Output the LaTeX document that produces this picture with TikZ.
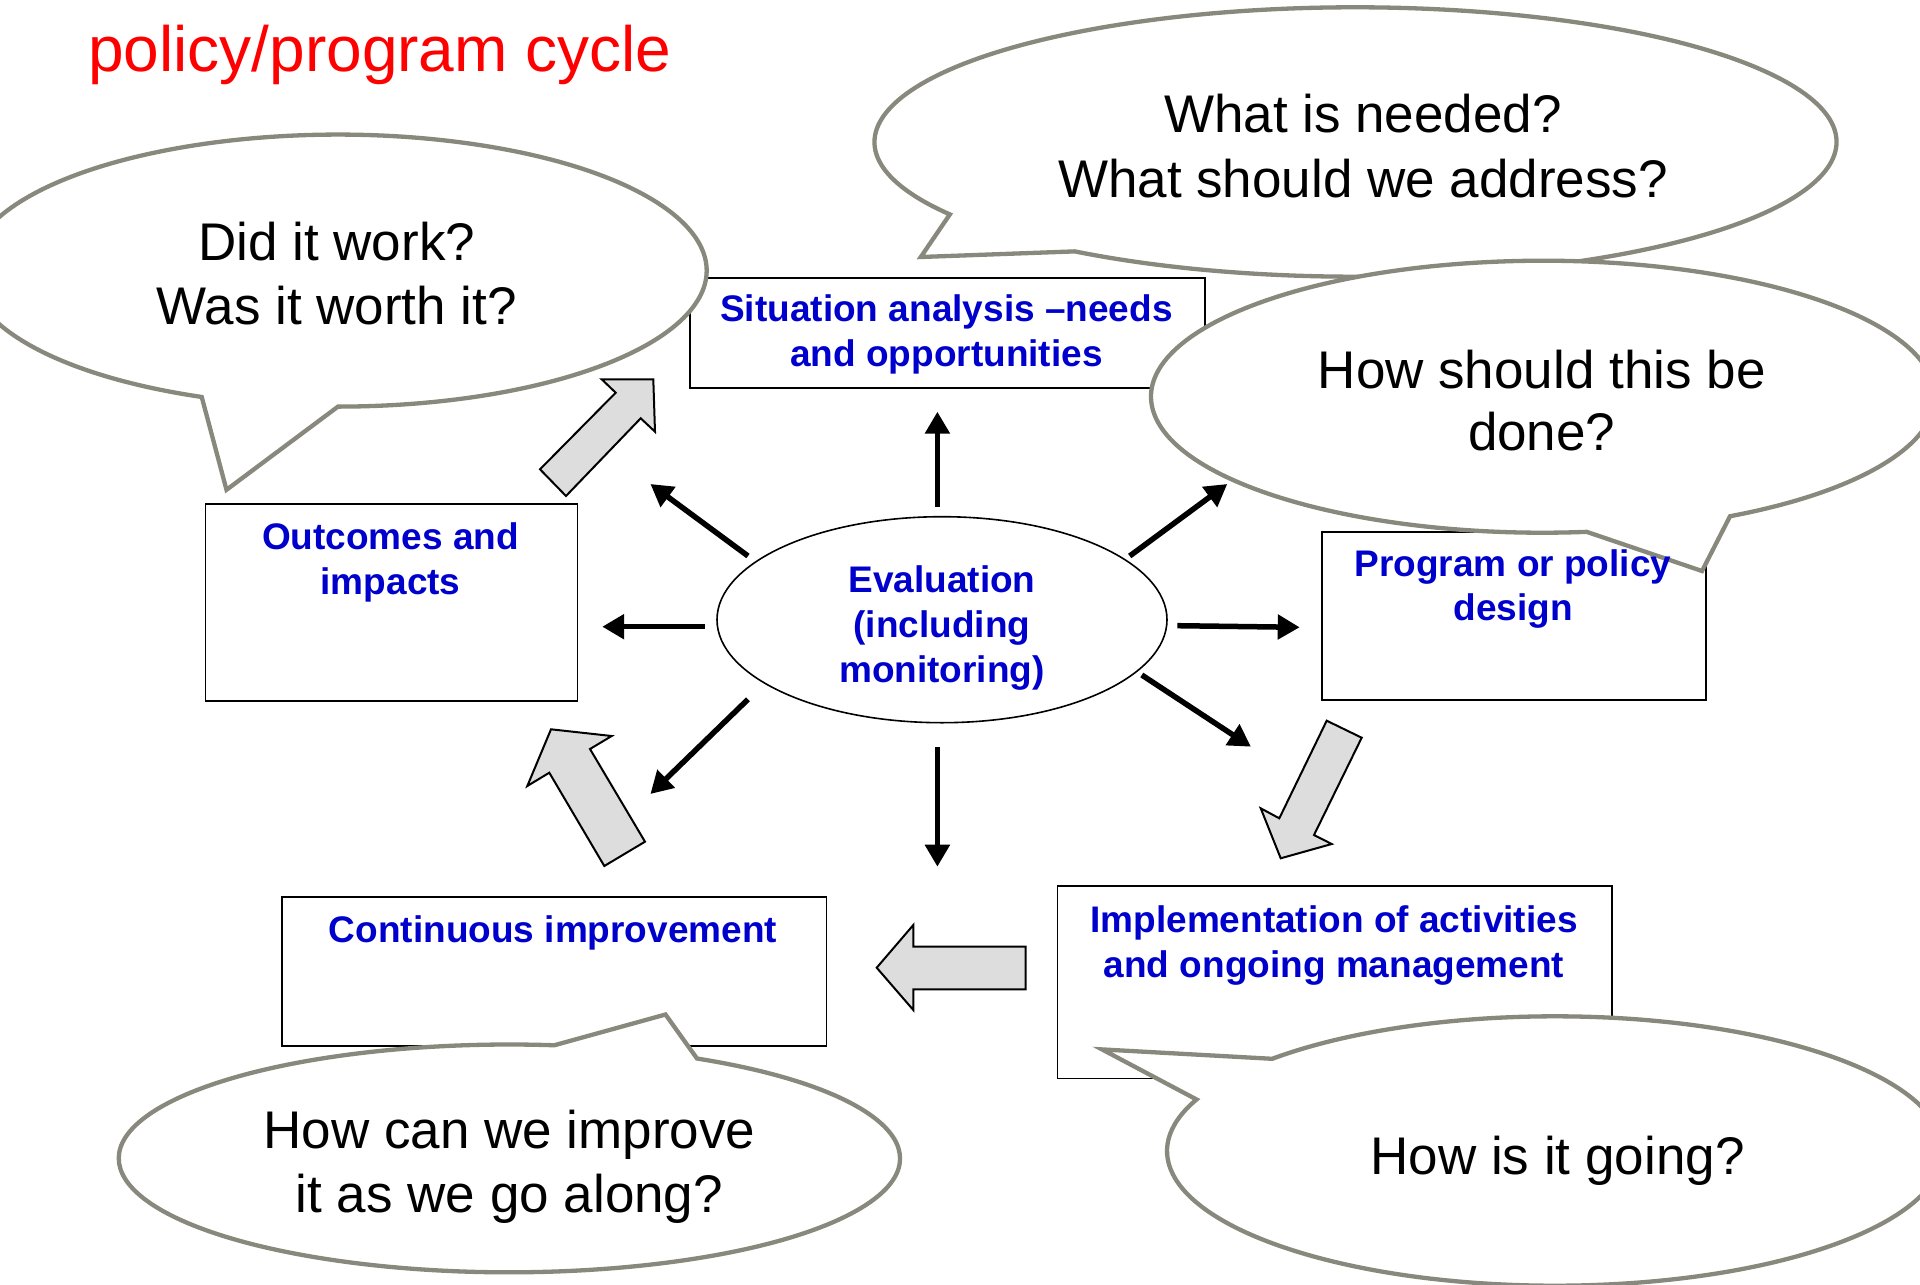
\documentclass[tikz,border=0pt]{standalone}
\usepackage{fontspec}
\setmainfont{Liberation Sans}
\usetikzlibrary{arrows.meta,shapes.geometric}
\definecolor{bubblegray}{RGB}{136,136,124}
\definecolor{boxblue}{RGB}{0,0,204}
\definecolor{arrowfill}{RGB}{221,221,221}
\newcommand\speechbubble[8]{%
  \draw[bubble] (#1,#2) ++(#6:#3 and #4) arc[start angle=#6, end angle={#5+360}, x radius=#3, y radius=#4] -- (#7,#8) -- cycle;}
\begin{document}
\begin{tikzpicture}[x=1pt,y=-1pt,
  bubble/.style={draw=bubblegray, line width=4.3pt, fill=white, line join=miter},
  boxframe/.style={draw=black, line width=1.6pt, fill=white, inner sep=0pt, anchor=north west},
  blocktxt/.style={text=boxblue, font=\bfseries\fontsize{37}{45}\selectfont, inner sep=0pt, anchor=base},
  qtxt/.style={text=black, font=\fontsize{53}{64}\selectfont, inner sep=0pt, anchor=base},
  evalarrow/.style={line width=5.5pt, -{Triangle[length=22pt,width=24pt]}},
  blockarrow/.style={draw=black, line width=2pt, fill=arrowfill, line join=miter}]
\clip (0,0) rectangle (1920,1285);
\fill[white] (0,0) rectangle (1920,1285);

% boxes
\node[boxframe, minimum width=515pt, minimum height=110pt] (sit) at (689,277) {};
\node[boxframe, minimum width=372pt, minimum height=197pt] (out) at (204.5,503.3) {};
\node[boxframe, minimum width=384pt, minimum height=168pt] (prog) at (1321,531) {};
\node[boxframe, minimum width=544.5pt, minimum height=149pt] (cont) at (281,896) {};
\node[boxframe, minimum width=554.7pt, minimum height=192.3pt] (impl) at (1056.7,885.3) {};

% central ellipse
\node[draw=black, line width=1.6pt, ellipse, fill=white, minimum width=450pt, minimum height=206pt, inner sep=0pt] (eval) at (942,619.7) {};

% evaluation arrows
\coordinate (uS) at (937.4,506.7);  \coordinate (uE) at (937.4,411.7);
\coordinate (ulS) at (748,556);     \coordinate (ulE) at (650.4,484);
\coordinate (urS) at (1129.7,556);  \coordinate (urE) at (1227.3,484);
\coordinate (lS) at (705,626.7);    \coordinate (lE) at (602.2,626.7);
\coordinate (rS) at (1177.4,625.7); \coordinate (rE) at (1299.7,627.3);
\coordinate (dlS) at (748,699.3);   \coordinate (dlE) at (650.4,794);
\coordinate (dS) at (937.4,747.3);  \coordinate (dE) at (937.4,866.7);
\coordinate (drS) at (1141.8,675);  \coordinate (drE) at (1250.9,746.7);
\draw[evalarrow] (uS) -- (uE);
\draw[evalarrow] (ulS) -- (ulE);
\draw[evalarrow] (urS) -- (urE);
\draw[evalarrow] (lS) -- (lE);
\draw[evalarrow] (rS) -- (rE);
\draw[evalarrow] (dlS) -- (dlE);
\draw[evalarrow] (dS) -- (dE);
\draw[evalarrow] (drS) -- (drE);

% gray block arrows (cycle)
\draw[blockarrow] (653.3,379.3) -- (601.7,379.3) -- (615.7,392.7) -- (540,469.3) -- (566,496) -- (640.7,418.3) -- (655,431.7) -- cycle;
\draw[blockarrow] (551,729.3) -- (611.7,736) -- (590,749) -- (645,841.7) -- (604.3,866) -- (549.3,772.7) -- (527.3,786) -- cycle;
\draw[blockarrow] (1280.7,858.3) -- (1260.7,808.3) -- (1279.3,818.3) -- (1326.7,720.7) -- (1361.7,737.7) -- (1314,835) -- (1331.7,844) -- cycle;
\draw[blockarrow] (876.7,967.7) -- (913.3,925) -- (913.3,946.7) -- (1025.7,946.7) -- (1025.7,989.3) -- (913.3,989.3) -- (913.3,1010) -- cycle;

% speech bubbles
\speechbubble{338}{270.6}{368.6}{136}{90}{111.7}{226.5}{489.8}
\speechbubble{1355.5}{142}{481}{134.7}{125.7}{147.5}{920.8}{257}
\speechbubble{1543}{396.7}{392}{136}{61.5}{83.6}{1702}{571}
\speechbubble{509.4}{1158.4}{390.6}{113.9}{276.6}{298.7}{665.5}{1014.5}
\speechbubble{1555}{1151}{388}{134.7}{202.5}{223.2}{1102}{1049.4}

% title
\node[text=red, font=\fontsize{64}{76}\selectfont, anchor=base west, inner sep=0pt] (title) at (88,71) {policy/program cycle};

% box texts
\node[blocktxt] (sit1) at (946.5,321.7) {Situation analysis –needs};
\node[blocktxt] (sit2) at (946.5,366.7) {and opportunities};
\node[blocktxt] (out1) at (390.6,549.5) {Outcomes and};
\node[blocktxt] (out2) at (390.6,594.5) {impacts};
\node[blocktxt] (prog1) at (1513,576.7) {Program or policy};
\node[blocktxt] (prog2) at (1513,620.5) {design};
\node[blocktxt] (cont1) at (553,942.7) {Continuous improvement};
\node[blocktxt] (impl1) at (1334,932.5) {Implementation of activities};
\node[blocktxt] (impl2) at (1334,977.5) {and ongoing management};
\node[blocktxt] (ev1) at (942,592.7) {Evaluation};
\node[blocktxt] (ev2) at (942,637.7) {(including};
\node[blocktxt] (ev3) at (942,682.7) {monitoring)};

% question texts
\node[qtxt] (qa1) at (336.7,260.8) {Did it work?};
\node[qtxt] (qa2) at (336.7,324.5) {Was it worth it?};
\node[qtxt] (qb1) at (1363,132.2) {What is needed?};
\node[qtxt] (qb2) at (1363,197) {What should we address?};
\node[qtxt] (qc1) at (1541.7,388.2) {How should this be};
\node[qtxt] (qc2) at (1541.7,450.6) {done?};
\node[qtxt] (qd1) at (509.4,1148.6) {How can we improve};
\node[qtxt] (qd2) at (509.4,1212.3) {it as we go along?};
\node[qtxt] (qe1) at (1557.6,1174.3) {How is it going?};
\end{tikzpicture}
\end{document}
